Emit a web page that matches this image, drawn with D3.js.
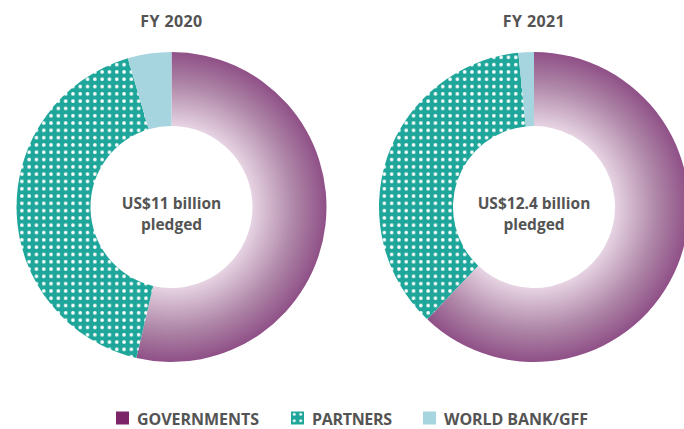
<!DOCTYPE html>
<html><head><meta charset="utf-8">
<script src="https://cdn.jsdelivr.net/npm/d3@7"></script>
<style>body{margin:0;background:#fff;overflow:hidden}svg{display:block}</style>
</head><body>
<script>
const categories = ["GOVERNMENTS", "PARTNERS", "WORLD BANK/GFF"];
const years = ["FY 2020", "FY 2021"];
const totals = ["US$11 billion", "US$12.4 billion"];
const fy2020 = [5.9, 4.6, 0.5];
const fy2021 = [7.7, 4.5, 0.2];
const seriesByYear = [fy2020, fy2021];

const W = 684, H = 429;
const svg = d3.select("body").append("svg").attr("width", W).attr("height", H);
const defs = svg.append("defs");

const FONT = "'Open Sans', 'DejaVu Sans', sans-serif";
const TXT = "#545454";
const rOuter = 155, rInner = 81;
const centers = [[171.5, 207], [534, 207]];

// fit a text element to a target width by letter spacing
function fit(sel, w) {
  const n = sel.node();
  const cur = n.getComputedTextLength();
  const chars = n.textContent.length;
  if (chars > 1) sel.attr("letter-spacing", ((w - cur) / (chars - 1)).toFixed(2));
}

// dot pattern for partners
const pat = defs.append("pattern").attr("id", "dots").attr("patternUnits", "userSpaceOnUse")
  .attr("width", 7.3).attr("height", 7.3);
pat.append("rect").attr("width", 7.3).attr("height", 7.3).attr("fill", "#1fa69b");
pat.append("circle").attr("cx", 3.65).attr("cy", 3.65).attr("r", 1.8).attr("fill", "#fff");

const legPat = defs.append("pattern").attr("id", "ldots").attr("patternUnits", "userSpaceOnUse")
  .attr("width", 6.5).attr("height", 6.5).attr("x", 291).attr("y", 411);
legPat.append("rect").attr("width", 6.5).attr("height", 6.5).attr("fill", "#1fa69b");
legPat.append("circle").attr("cx", 3.25).attr("cy", 3.25).attr("r", 1.5).attr("fill", "#fff");

const pie = d3.pie().sort(null).value(d => d);
const arc = d3.arc().innerRadius(rInner).outerRadius(rOuter);

seriesByYear.forEach((vals, i) => {
  const [cx, cy] = centers[i];
  const lg = defs.append("radialGradient").attr("id", "gradL" + i)
    .attr("gradientUnits", "userSpaceOnUse").attr("cx", 0).attr("cy", 0).attr("r", rOuter);
  lg.append("stop").attr("offset", rInner / rOuter).attr("stop-color", "#e6d3e2");
  lg.append("stop").attr("offset", 0.8).attr("stop-color", "#ad84a6");
  lg.append("stop").attr("offset", 1).attr("stop-color", "#8f5087");
  const fills = ["url(#gradL" + i + ")", "url(#dots)", "#a6d4df"];
  const gg = svg.append("g").attr("transform", `translate(${cx},${cy})`);
  pie(vals).forEach((a, k) => {
    gg.append("path").attr("d", arc(a)).attr("fill", fills[k]);
  });

  const title = svg.append("text").attr("x", cx).attr("y", 27).attr("text-anchor", "middle")
    .attr("font-family", FONT).attr("font-weight", 700).attr("font-size", 16).attr("fill", TXT)
    .text(years[i]);
  fit(title, 62);
  const t = svg.append("text").attr("text-anchor", "middle").attr("font-family", FONT)
    .attr("font-weight", 700).attr("font-size", 15.5).attr("fill", TXT);
  t.append("tspan").attr("x", cx).attr("y", 209).text(totals[i]);
  t.append("tspan").attr("x", cx).attr("y", 230).text("pledged");
});

// legend
const legX = [116, 291, 423];
const legW = [122, 80, 144];
const legFill = ["#7b2468", "url(#ldots)", "#a6d4df"];
categories.forEach((c, k) => {
  svg.append("rect").attr("x", legX[k]).attr("y", 411.5).attr("width", 13).attr("height", 13)
    .attr("fill", legFill[k]);
  const tx = svg.append("text").attr("x", legX[k] + 21).attr("y", 424.5).attr("font-family", FONT)
    .attr("font-weight", 700).attr("font-size", 16).attr("fill", TXT).text(c);
  fit(tx, legW[k]);
});
</script>
</body></html>
